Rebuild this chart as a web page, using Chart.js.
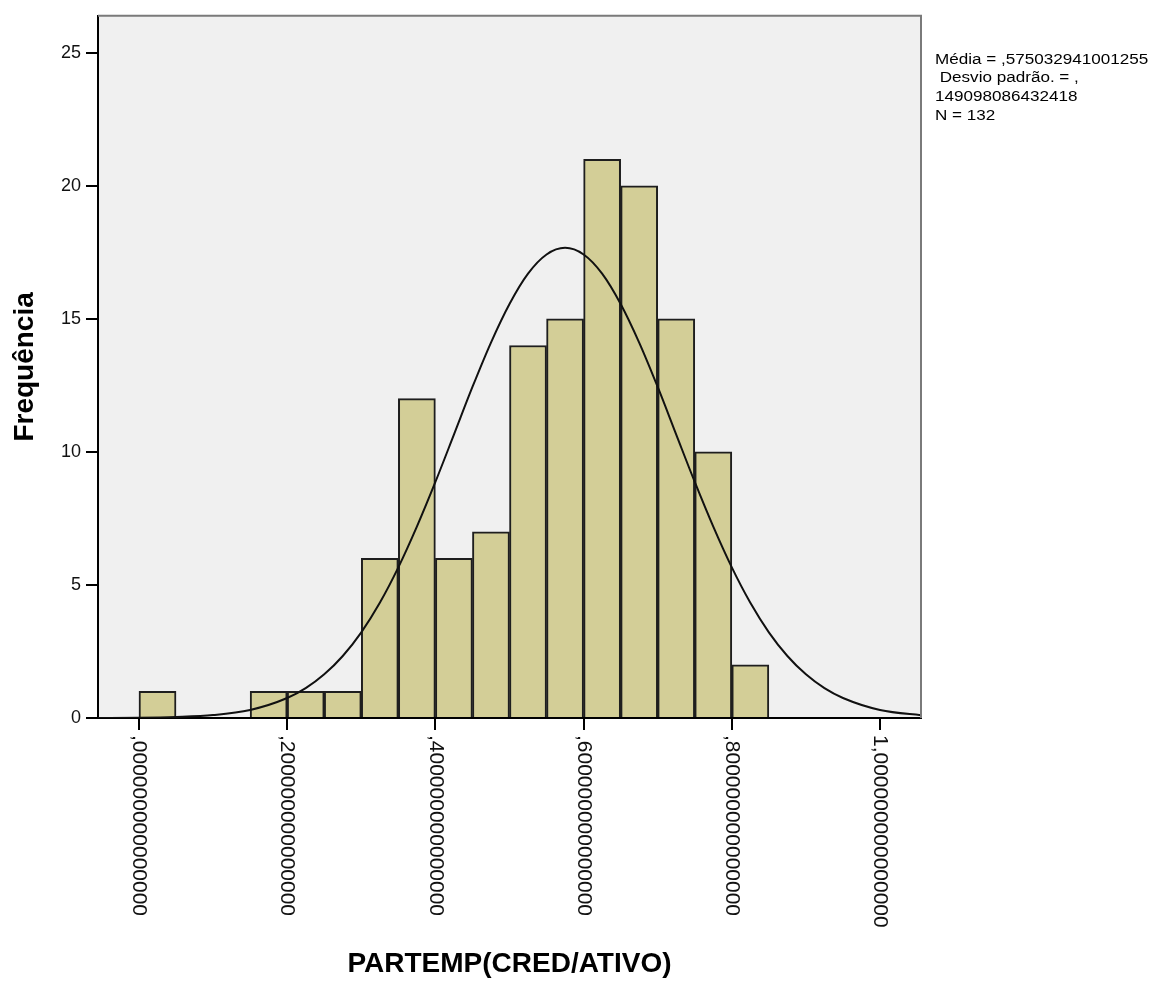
<!DOCTYPE html>
<html>
<head>
<meta charset="utf-8">
<script src="https://cdn.jsdelivr.net/npm/chart.js@4/dist/chart.umd.min.js"></script>
<style>
  body { margin: 0; background: #fff; }
  canvas { display: block; }
</style>
</head>
<body>
<canvas id="hist" width="1166" height="983"></canvas>
<script>
// histogram bins (lower edge) and counts
const binWidth = 0.05;
const binStarts = [0.00, 0.15, 0.20, 0.25, 0.30, 0.35, 0.40, 0.45, 0.50, 0.55, 0.60, 0.65, 0.70, 0.75, 0.80];
const binCounts = [1, 1, 1, 1, 6, 12, 6, 7, 14, 15, 21, 20, 15, 10, 2];

// normal curve
const curveX = [-0.06, 0.00, 0.05, 0.10, 0.15, 0.20, 0.225, 0.25, 0.275, 0.30, 0.325, 0.35, 0.375, 0.40, 0.425,
                0.45, 0.475, 0.50, 0.525, 0.55, 0.575, 0.60, 0.625, 0.65, 0.675, 0.70, 0.725, 0.75, 0.775,
                0.80, 0.825, 0.85, 0.875, 0.90, 0.925, 0.95, 1.00, 1.06];
const curveY = [0.00, 0.01, 0.04, 0.11, 0.30, 0.75, 1.12, 1.64, 2.33, 3.22, 4.33, 5.66, 7.19, 8.87, 10.65,
                12.44, 14.11, 15.56, 16.70, 17.42, 17.67, 17.42, 16.70, 15.56, 14.11, 12.44, 10.65, 8.87, 7.19,
                5.66, 4.33, 3.22, 2.33, 1.64, 1.12, 0.75, 0.30, 0.09];

const xTickValues = [0, 0.2, 0.4, 0.6, 0.8, 1.0];
const xTickLabels = [',000000000000000', ',200000000000000', ',400000000000000',
                     ',600000000000000', ',800000000000000', '1,000000000000000'];
const yTickValues = [0, 5, 10, 15, 20, 25];

const statsLines = ['Média = ,575032941001255', ' Desvio padrão. = ,', '149098086432418', 'N = 132'];

const barData = binStarts.map((s, i) => ({ x: s + binWidth / 2, y: binCounts[i] }));
const curveData = curveX.map((x, i) => ({ x: x, y: curveY[i] }));

const spssPlugin = {
    id: 'spss',
    beforeDraw(chart) {
        const { ctx, chartArea: a } = chart;
        ctx.save();
        ctx.fillStyle = '#f0f0f0';
        ctx.fillRect(a.left, a.top, a.right - a.left, a.bottom - a.top);
        ctx.restore();
    },
    afterDraw(chart) {
        const { ctx, chartArea: a } = chart;
        const xs = chart.scales.x;
        ctx.save();
        // top and right frame
        ctx.strokeStyle = '#7a7a7a';
        ctx.lineWidth = 2;
        ctx.beginPath();
        ctx.moveTo(a.left, a.top);
        ctx.lineTo(a.right, a.top);
        ctx.lineTo(a.right, a.bottom);
        ctx.stroke();

        // rotated x tick labels, reading top to bottom
        ctx.fillStyle = '#111';
        ctx.font = '21px "Liberation Sans", Arial, sans-serif';
        ctx.textAlign = 'left';
        ctx.textBaseline = 'middle';
        xTickValues.forEach((v, i) => {
            ctx.save();
            ctx.translate(xs.getPixelForValue(v), a.bottom + 17);
            ctx.rotate(Math.PI / 2);
            ctx.fillText(xTickLabels[i], 0, 0);
            ctx.restore();
        });

        // stats box text
        ctx.font = '14px "Liberation Sans", Arial, sans-serif';
        ctx.fillStyle = '#000';
        const lineY = [60, 78, 97, 116];
        statsLines.forEach((t, i) => {
            ctx.save();
            ctx.translate(935, lineY[i]);
            ctx.scale(1.22, 1);
            ctx.fillText(t, 0, 0);
            ctx.restore();
        });
        ctx.restore();
    }
};

new Chart(document.getElementById('hist'), {
    type: 'bar',
    data: {
        datasets: [
            {
                type: 'line',
                data: curveData,
                borderColor: '#111',
                borderWidth: 2,
                pointRadius: 0,
                fill: false,
                cubicInterpolationMode: 'monotone',
                order: 1
            },
            {
                type: 'bar',
                data: barData,
                backgroundColor: '#d3ce97',
                borderColor: '#1e1e1e',
                borderWidth: 2,
                barPercentage: 1,
                categoryPercentage: 1,
                order: 2
            }
        ]
    },
    options: {
        responsive: false,
        animation: false,
        layout: { padding: { top: 14, right: 245, left: 0, bottom: 0 } },
        plugins: { legend: { display: false }, tooltip: { enabled: false } },
        scales: {
            x: {
                type: 'linear',
                offset: false,
                min: -0.0553,
                max: 1.0553,
                afterBuildTicks: s => { s.ticks = xTickValues.map(v => ({ value: v })); },
                afterFit: s => { s.height = 265; },
                ticks: { display: false },
                grid: { offset: false, drawOnChartArea: false, drawTicks: true, tickLength: 12, color: '#000', lineWidth: 2 },
                border: { color: '#000', width: 2 },
                title: {
                    display: true,
                    text: 'PARTEMP(CRED/ATIVO)',
                    color: '#000',
                    font: { family: '"Liberation Sans", Arial, sans-serif', size: 28, weight: 'bold' },
                    padding: { top: 0, bottom: 2 }
                }
            },
            y: {
                min: 0,
                max: 26.39,
                afterBuildTicks: s => { s.ticks = yTickValues.map(v => ({ value: v })); },
                afterFit: s => { s.width = 98; },
                ticks: {
                    color: '#111',
                    padding: 5,
                    font: { family: '"Liberation Sans", Arial, sans-serif', size: 18 }
                },
                grid: { drawOnChartArea: false, drawTicks: true, tickLength: 12, color: '#000', lineWidth: 2 },
                border: { color: '#000', width: 2 },
                title: {
                    display: true,
                    text: 'Frequência',
                    color: '#000',
                    font: { family: '"Liberation Sans", Arial, sans-serif', size: 28, weight: 'bold' },
                    padding: { top: 8, bottom: 0 }
                }
            }
        }
    },
    plugins: [spssPlugin]
});
</script>
</body>
</html>
